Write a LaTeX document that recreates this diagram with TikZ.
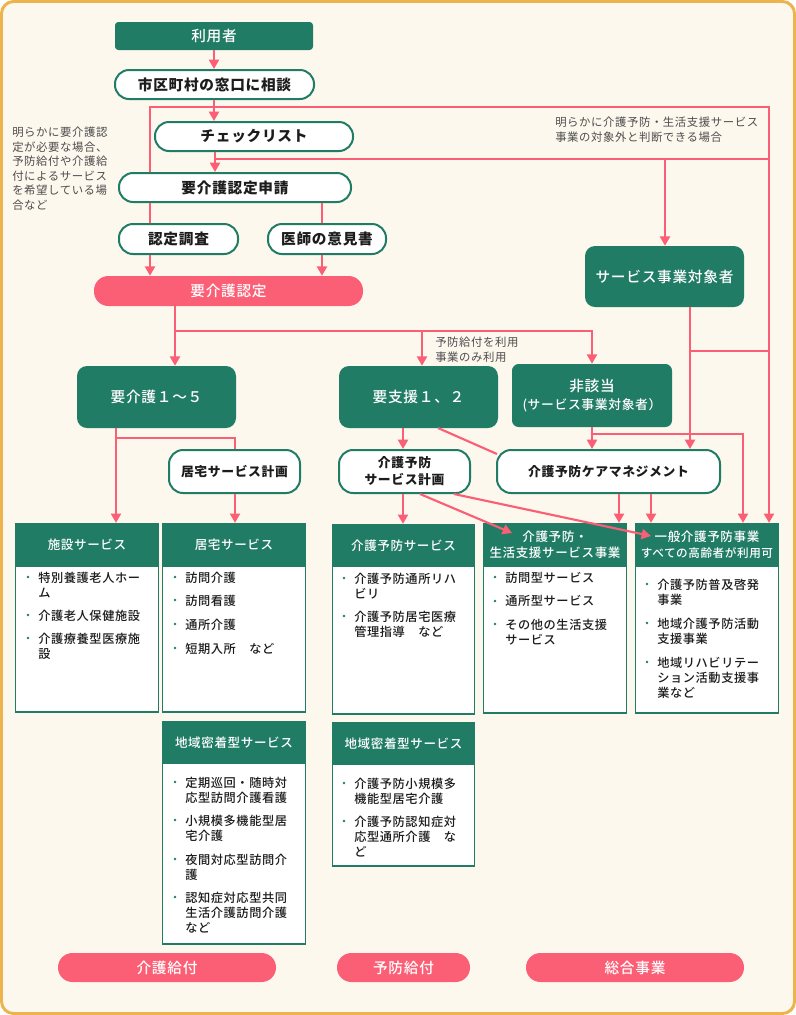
\documentclass[tikz,border=0pt]{standalone}
\usepackage{fontspec}
\setmainfont[LetterSpace=5]{Noto Sans CJK JP}
\newfontfamily\medfont[LetterSpace=5]{Noto Sans CJK JP Medium}
\usetikzlibrary{arrows.meta}
\definecolor{framecol}{HTML}{EDB34D}
\definecolor{papercol}{HTML}{FCF8EE}
\definecolor{greencol}{HTML}{217C66}
\definecolor{pinkcol}{HTML}{FB5F75}
\definecolor{notecol}{HTML}{4D4D4D}
\definecolor{inkcol}{HTML}{1C1C1C}
\tikzset{
	span/.style args={#1,#2,#3,#4}{anchor=center,at={({(#1+#3)/2},{(#2+#4)/2})},minimum width={(#3-(#1))*.75pt},minimum height={(#4-(#2))*.75pt}},
	bigfont/.style={font=\fontsize{11}{14}\selectfont\bfseries},
	midfont/.style={font=\fontsize{9.6}{12.6}\selectfont\bfseries},
	whitefont/.style={font=\fontsize{11}{14}\selectfont\medfont},
	headfont/.style={font=\fontsize{9.4}{12.4}\selectfont\medfont},
	darkbox/.style={fill=greencol,text=white,inner sep=0pt,align=center,whitefont,rounded corners=#1},
	darkbox/.default=7.5pt,
	pill/.style={draw=greencol,line width=1.5pt,fill=white,text=inkcol,inner sep=0pt,align=center,rounded corners=10.5pt},
	pinkpill/.style={fill=pinkcol,text=white,inner sep=0pt,rounded corners=10.8pt,whitefont},
	cardbody/.style={draw=greencol,line width=.9pt,fill=white,inner sep=0pt},
	cardhead/.style={draw=greencol,line width=.9pt,fill=greencol,text=white,inner sep=0pt,align=center,headfont},
	itemtext/.style={anchor=north west,inner sep=0pt,align=left,text=inkcol,font=\fontsize{9.15}{11.3}\selectfont\medfont},
	notetext/.style={anchor=north west,inner sep=0pt,align=left,text=notecol,font=\fontsize{8.55}{10.9}\selectfont},
	link/.style={draw=pinkcol,line width=1.6pt},
	arrowlink/.style={link,-{Triangle[length=7pt,width=7.5pt]}},
}
\begin{document}
\begin{tikzpicture}[x=.75pt,y=-.75pt]
	\useasboundingbox (0,0) rectangle (796,1015);
	\draw [draw=framecol,fill=papercol,line width=2.2pt,rounded corners=9pt] (1.5,1.5) rectangle (794.5,1013.5);

	% upper flow
	\node [darkbox=2.5pt,span={115,22,313,50}] (user) {利用者};
	\node [pill,bigfont,span={115,70,314,99}] (soudan) {市区町村の窓口に相談};
	\node [pill,bigfont,span={155,122,353,151}] (check) {チェックリスト};
	\node [pill,bigfont,span={119,173,351,202}] (shinsei) {要介護認定申請};
	\node [pill,bigfont,span={119,224,238,254}] (chosa) {認定調査};
	\node [pill,bigfont,span={268,224,386,254}] (ikensho) {医師の意見書};
	\node [pinkpill,span={94,276,363,306}] (nintei) {要介護認定};
	\node [darkbox,span={585,246,744,307}] (taisho) {サービス事業対象者};

	% levels
	\node [darkbox,span={77,366,236,428}] (kaigo) {要介護１～５};
	\node [darkbox,span={339,366,498,428}] (shien) {要支援１、２};
	\node [darkbox=5pt,span={512,364,672,427}] (higai) {非該当\\{\fontsize{9.6}{12}\selectfont\medfont (サービス事業対象者）}};

	% plans
	\node [pill,midfont,span={169,450,300,493}] (kyotakuplan) {居宅サービス計画};
	\node [pill,midfont,span={339,450,470,493}] (yoboplan) {介護予防\\サービス計画};
	\node [pill,midfont,span={497,450,720,493}] (caremgmt) {介護予防ケアマネジメント};

	% service cards
	\foreach \n/\xa/\ya/\xb/\yb/\yh/\t in {
		shisetsu/15.5/523.5/158.5/712/566/施設サービス,
		kyotaku/162.5/523.5/305.5/712/566/居宅サービス,
		yobosvc/332.5/524.5/474.5/714/566/介護予防サービス,
		sogo/483.5/523.5/626.5/713/566/{介護予防・\\生活支援サービス事業},
		ippan/635.5/523.5/778.5/713/566/{一般介護予防事業\\{\fontsize{8.7}{12.4}\selectfont\medfont すべての高齢者が利用可}},
		chiikia/162.5/721.5/305.5/944/763/地域密着型サービス,
		chiikib/332.5/722.5/474.5/866/764/地域密着型サービス} {
		\node [cardbody,span={\xa,\ya,\xb,\yb}] (\n body) {};
		\node [cardhead,span={\xa,\ya,\xb,\yh}] (\n) {\t};
	}
	\foreach \x/\y/\t [count=\i] in {
		38/577/{特別養護老人ホー\\ム},
		38/615/{介護老人保健施設},
		38/638/{介護療養型医療施\\設},
		185/577/{訪問介護},
		185/600/{訪問看護},
		185/624/{通所介護},
		185/648/{短期入所　など},
		354/578/{介護予防通所リハ\\ビリ},
		354/616/{介護予防居宅医療\\管理指導　など},
		505/577/{訪問型サービス},
		505/601/{通所型サービス},
		505/624/{その他の生活支援\\サービス},
		657/584/{介護予防普及啓発\\事業},
		657/623/{地域介護予防活動\\支援事業},
		657/662/{地域リハビリテー\\ション活動支援事\\業など},
		185/782/{定期巡回・随時対\\応型訪問介護看護},
		185/820/{小規模多機能型居\\宅介護},
		185/859/{夜間対応型訪問介\\護},
		185/897/{認知症対応型共同\\生活介護訪問介護\\など},
		354/783/{介護予防小規模多\\機能型居宅介護},
		354/821/{介護予防認知症対\\応型通所介護　な\\ど}} {
		\fill [greencol] (\x-10,\y) circle (1.4);
		\node [itemtext] (item\i) at (\x,\y-5.5) {\t};
	}

	% payment pills
	\node [pinkpill,span={58,953,276,982}] (kyufu) {介護給付};
	\node [pinkpill,span={337,953,470,982}] (yobokyufu) {予防給付};
	\node [pinkpill,span={526,953,744,982}] (sogojigyo) {総合事業};

	% notes
	\node [notetext] (noteleft) at (12,127) {明らかに要介護認\\定が必要な場合、\\予防給付や介護給\\付によるサービス\\を希望している場\\合など};
	\node [notetext] (noteright) at (555,117) {明らかに介護予防・生活支援サービス\\事業の対象外と判断できる場合};
	\node [notetext] (noteuse) at (435,337) {予防給付を利用\\事業のみ利用};

	% junctions
	\coordinate (ja) at (150,107);
	\coordinate (jb) at (769,107);
	\coordinate (jc) at (215,159);
	\coordinate (jd) at (769,159);
	\coordinate (je) at (665,159);
	\coordinate (jf) at (175,331);
	\coordinate (jg) at (422,331);
	\coordinate (jh) at (592,331);
	\coordinate (ji) at (690,351);
	\coordinate (jj) at (769,351);
	\coordinate (jk) at (116,438);
	\coordinate (jl) at (235,438);
	\coordinate (jm) at (592,434);
	\coordinate (jn) at (743,434);
	\coordinate (xa) at (214,0);
	\coordinate (xb) at (322,0);
	\coordinate (xc) at (403,0);
	\coordinate (xd) at (619,0);
	\coordinate (xe) at (651,0);
	\coordinate (da) at (438,428);
	\coordinate (db) at (497,454);
	\coordinate (dc) at (420,494);
	\coordinate (dd) at (512,533);
	\coordinate (de) at (454,494);
	\coordinate (df) at (651,536);

	\draw [arrowlink] (user.south -| xa) -- (soudan.north -| xa);
	\draw [arrowlink] (soudan.south -| xa) -- (check.north -| xa);
	\draw [arrowlink] (shinsei.north -| ja) -- (ja) -- (jb) -- (ippan.north -| jb);
	\draw [arrowlink] (check.south -| jc) -- (shinsei.north -| jc);
	\draw [link] (jc) -- (jd);
	\draw [arrowlink] (je) -- (taisho.north -| je);
	\draw [link] (shinsei.south -| ja) -- (chosa.north -| ja);
	\draw [link] (shinsei.south -| xb) -- (ikensho.north -| xb);
	\draw [arrowlink] (chosa.south -| ja) -- (nintei.north -| ja);
	\draw [arrowlink] (ikensho.south -| xb) -- (nintei.north -| xb);
	\draw [arrowlink] (nintei.south -| jf) -- (kaigo.north -| jf);
	\draw [arrowlink] (jf) -- (jh) -- (higai.north -| jh);
	\draw [arrowlink] (jg) -- (shien.north -| jg);
	\draw [arrowlink] (taisho.south -| ji) -- (caremgmt.north -| ji);
	\draw [link] (ji) -- (jj);
	\draw [arrowlink] (kaigo.south -| jk) -- (shisetsu.north -| jk);
	\draw [link] (jk) -- (jl) -- (kyotakuplan.north -| jl);
	\draw [arrowlink] (kyotakuplan.south -| jl) -- (kyotaku.north -| jl);
	\draw [arrowlink] (shien.south -| xc) -- (yoboplan.north -| xc);
	\draw [link] (da) -- (db);
	\draw [arrowlink] (yoboplan.south -| xc) -- (yobosvc.north -| xc);
	\draw [arrowlink] (dc) -- (dd);
	\draw [arrowlink] (de) -- (df);
	\draw [arrowlink] (higai.south -| jm) -- (caremgmt.north -| jm);
	\draw [arrowlink] (jm) -- (jn) -- (ippan.north -| jn);
	\draw [arrowlink] (caremgmt.south -| xd) -- (sogo.north -| xd);
	\draw [arrowlink] (caremgmt.south -| xe) -- (ippan.north -| xe);
\end{tikzpicture}
\end{document}
